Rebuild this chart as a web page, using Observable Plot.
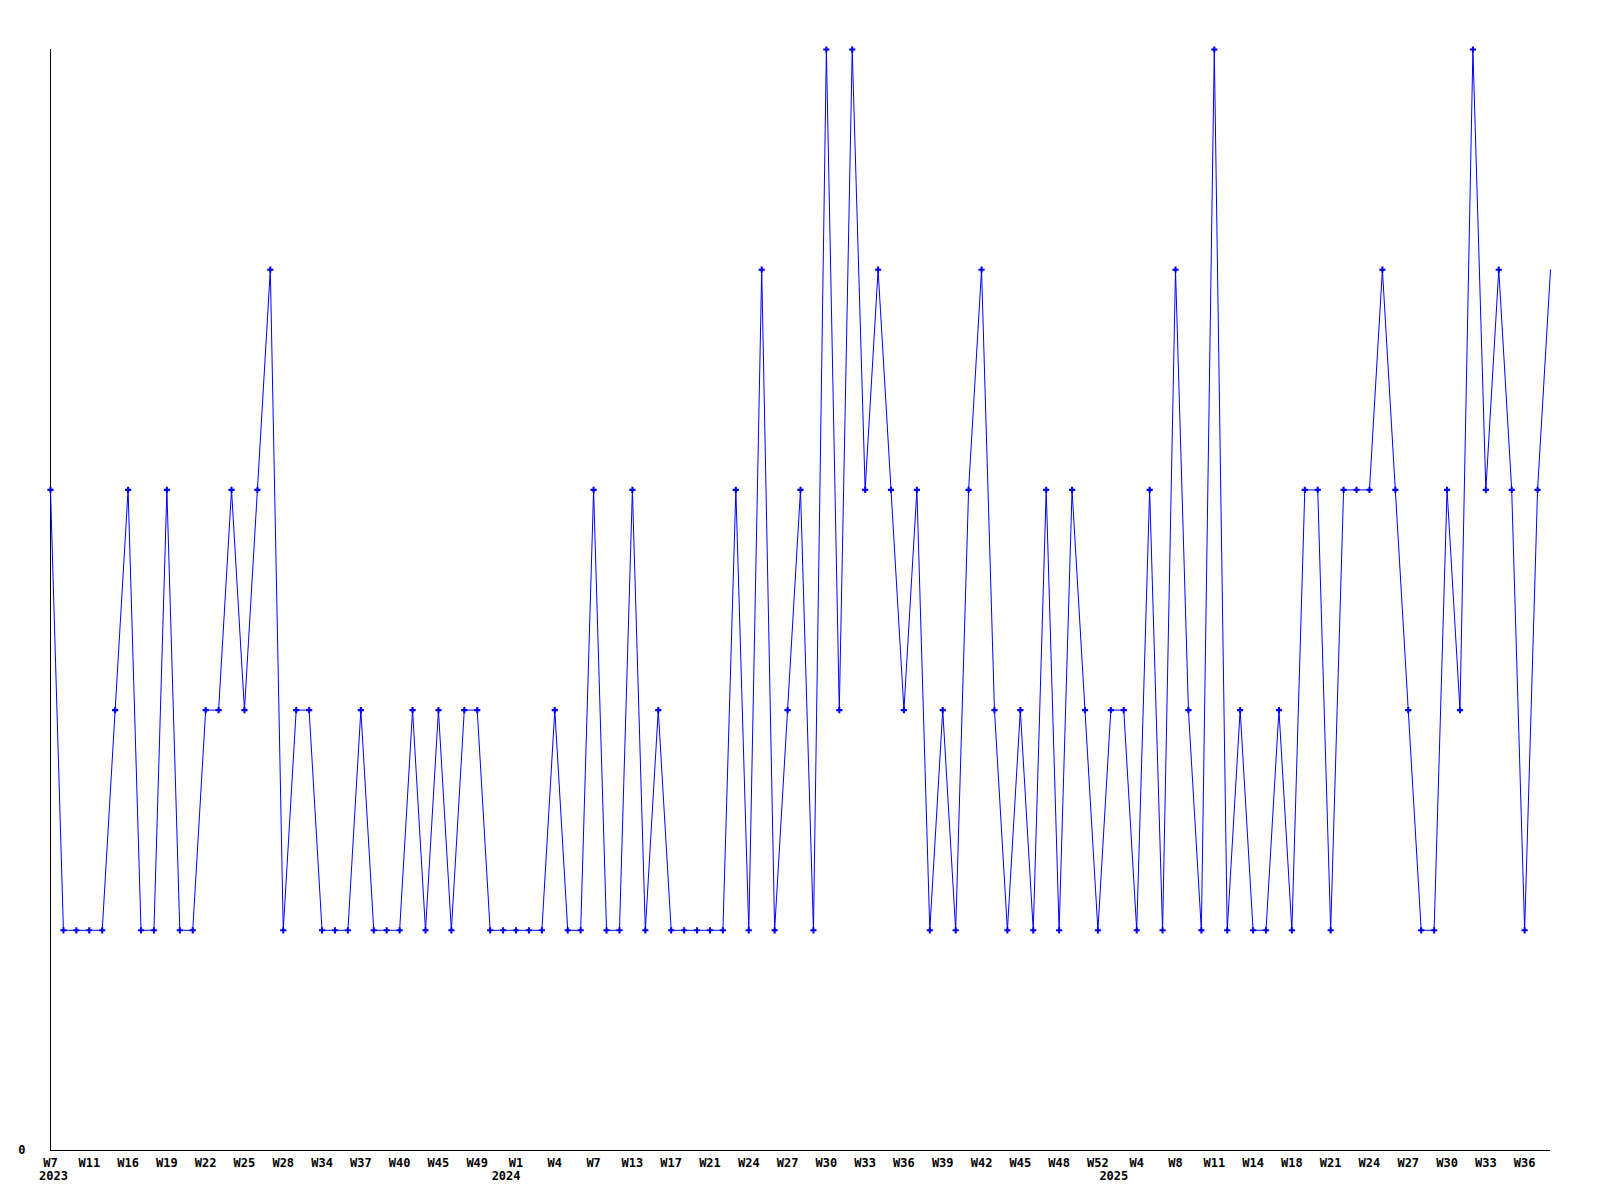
<!DOCTYPE html>
<html>
<head>
<meta charset="utf-8">
<script src="https://cdn.jsdelivr.net/npm/d3@7"></script>
<script src="https://cdn.jsdelivr.net/npm/@observablehq/plot@0.6"></script>
<style>
  html, body { margin: 0; padding: 0; background: #fff; }
  svg { display: block; }
</style>
</head>
<body>
<div id="chart"></div>
<script>
// Weekly counts (only weeks with at least one event), Feb 2023 – Sep 2025
const values = [
  3,1,1,1,1,2,3,1,1,3,1,1,2,2,3,2,3,4,1,2,
  2,1,1,1,2,1,1,1,2,1,2,1,2,2,1,1,1,1,1,2,
  1,1,3,1,1,3,1,2,1,1,1,1,1,3,1,4,1,2,3,1,
  5,2,5,3,4,3,2,3,1,2,1,3,4,2,1,2,1,3,1,3,
  2,1,2,2,1,3,1,4,2,1,5,1,2,1,1,2,1,3,3,1,
  3,3,3,4,3,2,1,1,3,2,5,3,4,3,1,3,4
];

// Labels shown under every third data point
const tickLabels = [
  "W7","W11","W16","W19","W22","W25","W28","W34","W37","W40","W45","W49","W1",
  "W4","W7","W13","W17","W21","W24","W27","W30","W33","W36","W39","W42","W45",
  "W48","W52","W4","W8","W11","W14","W18","W21","W24","W27","W30","W33","W36"
];
const tickStep = 3;

// Year captions and the data point where each year starts
const yearNames = ["2023", "2024", "2025"];
const yearStarts = [0, 35, 82];

const data = values.map((v, i) => ({i, v}));
const years = yearNames.map((y, k) => ({year: y, i: yearStarts[k]}));
const tickIdx = tickLabels.map((_, k) => k * tickStep);

const font = "bold 12px 'DejaVu Sans Mono', 'Liberation Mono', monospace";

const chart = Plot.plot({
  width: 1600,
  height: 1200,
  marginLeft: 50,
  marginRight: 50,
  marginTop: 49,
  marginBottom: 50,
  style: {font, color: "#000", background: "#fff"},
  x: {type: "linear", domain: [0, values.length - 1], axis: null, label: null},
  y: {domain: [0, 5], axis: null, label: null},
  marks: [
    Plot.axisY({ticks: [0], tickSize: 0, tickPadding: 25, label: null, tickFormat: d => String(d), fill: "#000"}),
    Plot.axisX({ticks: tickIdx, tickSize: 0, tickPadding: 8, label: null, tickFormat: d => tickLabels[d / tickStep], fill: "#000"}),
    Plot.text(years, {x: "i", text: "year", frameAnchor: "bottom", dy: 29, dx: 3, fill: "#000"}),
    Plot.ruleX([0], {stroke: "#000", strokeWidth: 1}),
    Plot.ruleY([0], {stroke: "#000", strokeWidth: 1}),
    Plot.line(data, {x: "i", y: "v", stroke: "#0000ff", strokeWidth: 1}),
    Plot.dot(data.filter(d => d.i < values.length - 1), {x: "i", y: "v", symbol: "cross", r: 2.6, fill: "#0000ff", stroke: "none"})
  ]
});
document.getElementById("chart").appendChild(chart);
</script>
</body>
</html>
